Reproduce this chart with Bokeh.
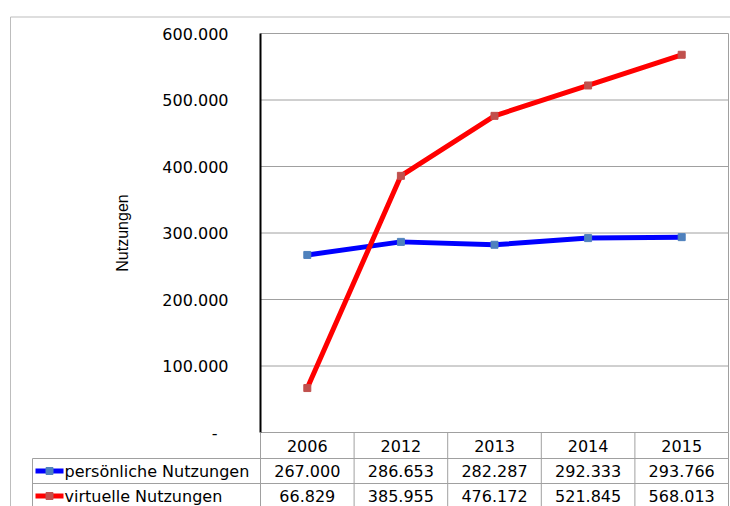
from math import pi
from bokeh.plotting import figure
from bokeh.models import Range1d
from bokeh.core.properties import value
from bokeh.embed import file_html
from bokeh.resources import INLINE

# ---- data ----
years = ["2006", "2012", "2013", "2014", "2015"]
persoenliche = [267000, 286653, 282287, 292333, 293766]
virtuelle = [66829, 385955, 476172, 521845, 568013]
series_names = ["persönliche Nutzungen", "virtuelle Nutzungen"]
y_ticks = [0, 100000, 200000, 300000, 400000, 500000, 600000]
y_title = "Nutzungen"

# ---- layout (picture pixels) ----
W, H = 730, 506
OX, OY = 0, 0
PL, PR, PT, PB = 260, 728, 33, 432
NCOL = len(years)
COLW = (PR - PL) / NCOL
YMAX = y_ticks[-1]
K = YMAX / (PB - PT)
HEAD_H, ROW_H = 26, 25
LAB_L = 32


def X(px):
    return (px - PL) / COLW


def Y(py):
    return (PB - py) * K


def de(v):
    return f"{v:,}".replace(",", ".")


FONT = value("DejaVu Sans")
GRID = "#a0a0a0"

p = figure(width=W, height=H, x_range=Range1d(X(OX), X(OX + W)),
           y_range=Range1d(Y(OY + H), Y(OY)), output_backend="svg",
           toolbar_location=None, min_border=0, x_axis_location=None,
           y_axis_location=None, outline_line_color=None,
           background_fill_color="white", border_fill_color="white")
p.grid.visible = False

# outer chart border
p.segment(x0=[X(10), X(10)], y0=[Y(16.5), Y(16.5)], x1=[X(OX + W + 2), X(10)],
          y1=[Y(16.5), Y(OY + H + 2)], line_color="#bdbdbd", line_width=1)

# gridlines
inner = y_ticks[1:-1]
p.segment(x0=[0] * len(inner), x1=[NCOL] * len(inner), y0=inner, y1=inner,
          line_color=GRID, line_width=1)
# plot border
p.segment(x0=[0, NCOL, 0], y0=[YMAX, YMAX, 0], x1=[NCOL, NCOL, NCOL],
          y1=[YMAX, 0, 0], line_color=GRID, line_width=1)
p.segment(x0=[0], y0=[0], x1=[0], y1=[YMAX], line_color="black", line_width=2)

# table grid
bottom = Y(OY + H + 5)
r1_top = PB + HEAD_H
r2_top = r1_top + ROW_H
p.segment(x0=list(range(NCOL + 1)), x1=list(range(NCOL + 1)),
          y0=[0] * (NCOL + 1), y1=[bottom] * (NCOL + 1),
          line_color=GRID, line_width=1)
p.segment(x0=[X(LAB_L)] * 2, x1=[NCOL] * 2, y0=[Y(r1_top), Y(r2_top)],
          y1=[Y(r1_top), Y(r2_top)], line_color=GRID, line_width=1)
p.segment(x0=[X(LAB_L)], x1=[X(LAB_L)], y0=[Y(r1_top)], y1=[bottom],
          line_color=GRID, line_width=1)

# y tick labels
p.text(x=[X(228)] * (len(y_ticks) - 1), y=y_ticks[1:],
       text=[de(t) for t in y_ticks[1:]], text_align="right",
       text_baseline="middle", text_font=FONT, text_font_size="16px",
       text_color="black")
p.text(x=[X(217)], y=[y_ticks[0]], text=["-"], text_align="right",
       text_baseline="middle", text_font=FONT, text_font_size="16px",
       text_color="black")

# y title
p.text(x=[X(122)], y=[Y((PT + PB) / 2)], text=[y_title], angle=pi / 2,
       text_align="center", text_baseline="middle",
       text_font=value("Liberation Sans"), text_font_size="16px",
       text_color="black")

cx = [i + 0.5 for i in range(NCOL)]

# series
colors = [("#0000ff", "#4f81bd"), ("#ff0000", "#c0504d")]
data = [persoenliche, virtuelle]
for vals, (lc, mc) in zip(data, colors):
    p.line(x=cx, y=vals, line_color=lc, line_width=5, line_join="round")
    p.scatter(x=cx, y=vals, marker="square", size=7, fill_color=mc,
              line_color=mc)

# table header
p.text(x=cx, y=[Y(PB + 13)] * NCOL, text=years, text_align="center",
       text_baseline="middle", text_font=FONT, text_font_size="16px",
       text_color="black")

# table rows
row_tops = [r1_top, r2_top]
for name, vals, (lc, mc), top in zip(series_names, data, colors, row_tops):
    yc = Y(top + 12.5)
    p.text(x=cx, y=[yc] * NCOL, text=[de(v) for v in vals],
           text_align="center", text_baseline="middle", text_font=FONT,
           text_font_size="16px", text_color="black")
    p.segment(x0=[X(35)], x1=[X(63)], y0=[yc], y1=[yc], line_color=lc,
              line_width=5)
    p.scatter(x=[X(49)], y=[yc], marker="square", size=7, fill_color=mc,
              line_color=mc)
    p.text(x=[X(64)], y=[yc], text=[name], text_align="left",
           text_baseline="middle", text_font=FONT, text_font_size="16px",
           text_color="black")

open("out.html", "w").write(file_html(p, INLINE))
